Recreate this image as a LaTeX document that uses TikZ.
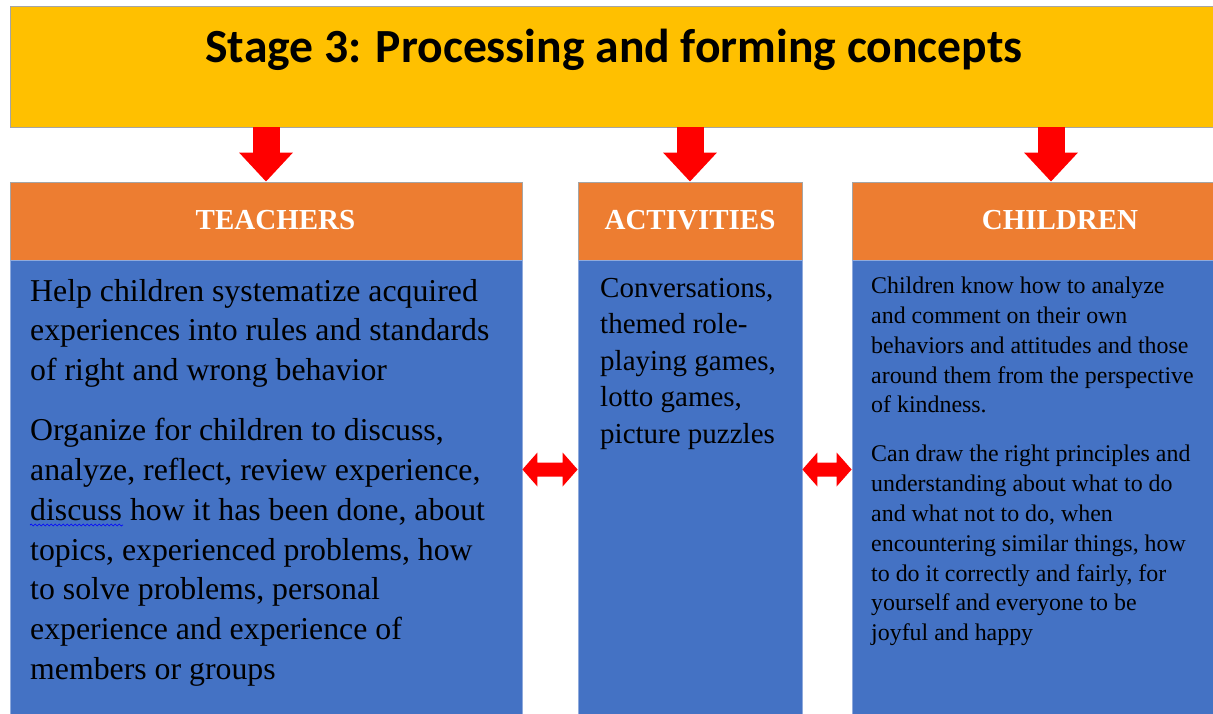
\documentclass[tikz,border=0pt]{standalone}
\usepackage{fontspec}
\setmainfont{Liberation Serif}
\newfontfamily\titlefont{Carlito}
\usepackage{xcolor}
\usepackage{tikz}
\usetikzlibrary{calc}
\usetikzlibrary{arrows.meta}
\usetikzlibrary{positioning}
\usetikzlibrary{decorations.pathmorphing}

\definecolor{stageyellow}{HTML}{FFC000}
\definecolor{headorange}{HTML}{ED7D31}
\definecolor{bodyblue}{HTML}{4472C4}
\definecolor{arrowred}{HTML}{FF0000}
\definecolor{edgegray}{HTML}{A5A5A5}
\definecolor{edgeblue}{HTML}{8FAADC}

\tikzset{
  headbox/.style={rectangle, fill=headorange, draw=edgegray, line width=0.8pt,
    minimum height=78pt, inner sep=0pt, text=white,
    font=\fontsize{29}{34}\selectfont\bfseries},
  bodybox/.style={rectangle, fill=bodyblue, draw=edgeblue, line width=0.8pt,
    minimum height=480pt, inner sep=0pt},
  bodytext/.style={anchor=north west, align=left, inner sep=0pt, text=black},
  downarrow/.style={line width=27pt, draw=arrowred,
    -{Triangle[width=52pt,length=29pt]}},
  % block arrow with a head at both ends
  twoway/.style={fill=arrowred, to path={
    let \p1=(\tikztostart), \p2=(\tikztotarget) in
    -- (\x1+15pt,\y1+17pt) -- (\x1+15pt,\y1+7pt) -- (\x2-15pt,\y1+7pt)
    -- (\x2-15pt,\y1+17pt) -- (\x2,\y1) -- (\x2-15pt,\y1-17pt)
    -- (\x2-15pt,\y1-7pt) -- (\x1+15pt,\y1-7pt) -- (\x1+15pt,\y1-17pt)
    -- cycle}},
  squiggle/.style={draw=blue, line width=0.7pt, decorate,
    decoration={snake, amplitude=1pt, segment length=4pt}}
}

\begin{document}
\begin{tikzpicture}[x=1pt, y=-1pt]
\useasboundingbox (0,0) rectangle (1213,714);
\clip (0,0) rectangle (1213,714);

% stage banner
\node [rectangle, fill=stageyellow, draw=edgegray, line width=0.8pt,
  minimum width=1240pt, minimum height=121pt] (banner) at (630,66.5) {};
\node [anchor=base, font=\titlefont\fontsize{47.6}{52}\selectfont\bfseries] (title) at (614,63)
  {Stage 3: Processing and forming concepts};

% column heads
\node [headbox, minimum width=512pt] (thead) at (266,221) {\hspace*{19pt}\raisebox{2pt}{TEACHERS}};
\node [headbox, minimum width=224pt] (ahead) at (690,221) {\raisebox{2pt}{ACTIVITIES}};
\node [headbox, minimum width=398pt] (chead) at (1051,221) {\hspace*{18pt}\raisebox{2pt}{CHILDREN}};

% column bodies
\node [bodybox, minimum width=512pt] (tbody) at (266,500) {};
\node [bodybox, minimum width=224pt] (abody) at (690,500) {};
\node [bodybox, minimum width=398pt] (cbody) at (1051,500) {};

\node [bodytext, font=\fontsize{31.8}{39.8}\selectfont] (ttext) at (30,273)
  {\strut Help children systematize acquired\\
   experiences into rules and standards\\
   of right and wrong behavior\\[20.3pt]
   Organize for children to discuss,\\
   analyze, reflect, review experience,\\
   discuss how it has been done, about\\
   topics, experienced problems, how\\
   to solve problems, personal\\
   experience and experience of\\
   members or groups};
\node [bodytext, font=\fontsize{29}{36.5}\selectfont] (atext) at (600,271.4)
  {\strut Conversations,\\
   themed role-\\
   playing games,\\
   lotto games,\\
   picture puzzles};
\node [bodytext, font=\fontsize{23.9}{29.8}\selectfont] (ctext) at (871,272.6)
  {\strut Children know how to analyze\\
   and comment on their own\\
   behaviors and attitudes and those\\
   around them from the perspective\\
   of kindness.\\[19.2pt]
   Can draw the right principles and\\
   understanding about what to do\\
   and what not to do, when\\
   encountering similar things, how\\
   to do it correctly and fairly, for\\
   yourself and everyone to be\\
   joyful and happy};
\draw [squiggle] (30,525) -- (123,525);

% arrows from the banner
\draw [downarrow] (banner.south -| thead.north) to (thead.north);
\draw [downarrow] (banner.south -| ahead.north) to (ahead.north);
\draw [downarrow] (banner.south -| chead.north) to (chead.north);

% arrows between columns
\coordinate (mid) at (0,469.5);
\fill [twoway] (tbody.east |- mid) to (abody.west |- mid);
\fill [twoway] (abody.east |- mid) to (cbody.west |- mid);
\end{tikzpicture}
\end{document}
